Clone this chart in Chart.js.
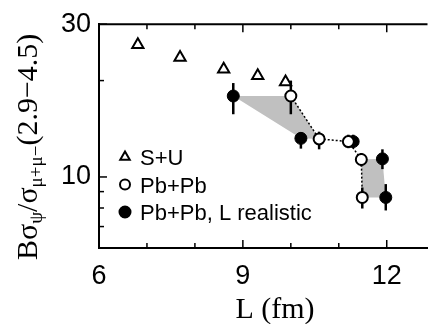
<!DOCTYPE html>
<html>
<head>
<meta charset="utf-8">
<script src="https://cdn.jsdelivr.net/npm/chart.js@4.4.1/dist/chart.umd.min.js"></script>
<style>
  html, body { margin: 0; padding: 0; background: #fff; overflow: hidden; }
  #wrap { width: 436px; height: 324px; }
</style>
</head>
<body>
<div id="wrap"><canvas id="chart" width="436" height="324"></canvas></div>
<script>
// S+U (open triangles)
const suL = [6.81, 7.69, 8.60, 9.31, 9.89]
const suVal = [25.9, 23.6, 21.7, 20.7, 19.8]

// Pb+Pb (open circles)
const pbL = [10.00, 10.59, 11.20, 11.47, 11.49]
const pbVal = [17.9, 13.15, 12.9, 11.34, 8.63]
const pbLo = [15.7, 12.2, 12.3, 10.8, 7.97]
const pbHi = [20.0, 13.85, 13.55, 11.88, 9.27]

// Pb+Pb, L realistic (filled circles)
const realL = [8.80, 10.21, 11.30, 11.91, 11.98]
const realVal = [17.9, 13.2, 12.9, 11.39, 8.63]
const realLo = [15.7, 12.26, 12.3, 10.58, 7.86]
const realHi = [19.65, 13.78, 13.55, 12.2, 9.5]

// index runs shaded between the two Pb+Pb series
const shadeRuns = [[0, 1], [3, 4]]

const xTicks = [6, 7, 8, 9, 10, 11, 12]
const xLabels = [6, 9, 12]
const yTicks = [6, 7, 8, 9, 10, 20, 30]
const yLabels = [10, 30]

const toPoints = (xs, ys) => xs.map((v, i) => ({x: v, y: ys[i]}))

// Sombreado + barras de erro (por baixo dos marcadores)
const bandsAndErrors = {
    id: 'bandsAndErrors',
    beforeDatasetsDraw(chart) {
        const {ctx, scales: {x, y}} = chart
        ctx.save()
        ctx.fillStyle = '#c0c0c0'
        shadeRuns.forEach(([a, b]) => {
            ctx.beginPath()
            ctx.moveTo(x.getPixelForValue(realL[a]), y.getPixelForValue(realVal[a]))
            for (let i = a; i <= b; i++) ctx.lineTo(x.getPixelForValue(pbL[i]), y.getPixelForValue(pbVal[i]))
            for (let i = b; i >= a; i--) ctx.lineTo(x.getPixelForValue(realL[i]), y.getPixelForValue(realVal[i]))
            ctx.closePath()
            ctx.fill()
        })

        ctx.strokeStyle = '#000'
        ctx.lineWidth = 2.5
        const bars = (xs, lo, hi) => xs.forEach((v, i) => {
            const px = x.getPixelForValue(v)
            ctx.beginPath()
            ctx.moveTo(px, y.getPixelForValue(lo[i]))
            ctx.lineTo(px, y.getPixelForValue(hi[i]))
            ctx.stroke()
        })
        bars(realL, realLo, realHi)
        bars(pbL, pbLo, pbHi)
        ctx.restore()
    }
}

// Moldura superior, ticks para dentro, legenda e título do eixo y
const frameAndText = {
    id: 'frameAndText',
    afterDraw(chart) {
        const {ctx, chartArea: area, scales: {x, y}} = chart
        ctx.save()
        ctx.strokeStyle = '#000'
        ctx.lineWidth = 2
        ctx.beginPath()
        ctx.moveTo(area.left, area.top)
        ctx.lineTo(area.right, area.top)
        ctx.stroke()

        ctx.lineWidth = 1.5
        xTicks.forEach(v => {
            const px = x.getPixelForValue(v)
            const len = xLabels.includes(v) ? 8 : 5
            ctx.beginPath()
            ctx.moveTo(px, area.bottom); ctx.lineTo(px, area.bottom - len)
            ctx.moveTo(px, area.top); ctx.lineTo(px, area.top + len)
            ctx.stroke()
        })
        yTicks.forEach(v => {
            const py = y.getPixelForValue(v)
            const len = yLabels.includes(v) ? 8 : 5
            ctx.beginPath()
            ctx.moveTo(area.left, py); ctx.lineTo(area.left + len, py)
            ctx.stroke()
        })

        // legenda
        const items = [chart.data.datasets[2], chart.data.datasets[0], chart.data.datasets[1]]
        ctx.font = '22px "Liberation Sans"'
        ctx.textBaseline = 'alphabetic'
        items.forEach((ds, i) => {
            const my = 157 + i * 27.5
            ctx.beginPath()
            if (ds.pointStyle === 'triangle') {
                const r = 5.5
                ctx.moveTo(125, my - r)
                ctx.lineTo(125 + r * 0.866, my + r / 2)
                ctx.lineTo(125 - r * 0.866, my + r / 2)
                ctx.closePath()
            } else {
                ctx.arc(125, my, ds.pointBackgroundColor === '#000' ? 5.5 : 5, 0, Math.PI * 2)
            }
            ctx.fillStyle = ds.pointBackgroundColor
            ctx.fill()
            ctx.lineWidth = 2
            ctx.stroke()
            ctx.fillStyle = '#000'
            ctx.fillText(ds.label, 140, my + 8)
        })

        // título do eixo x
        ctx.font = '30px "Liberation Serif"'
        ctx.textAlign = 'center'
        ctx.fillText('L (fm)', 275, 318)

        // título do eixo y com subscritos
        ctx.textAlign = 'left'
        ctx.translate(37, 260)
        ctx.rotate(-Math.PI / 2)
        const parts = [['Bσ', 0], ['ψ', 1], ['/σ', 0], ['μ+μ−', 1], ['(2.9−4.5)', 0]]
        let cx = 0
        parts.forEach(([t, sub]) => {
            ctx.font = sub ? '19px "Liberation Serif"' : '30px "Liberation Serif"'
            ctx.fillText(t, cx, sub ? 5 : 0)
            cx += ctx.measureText(t).width
        })
        ctx.restore()
    }
}

new Chart(document.getElementById('chart'), {
    type: 'scatter',
    data: {
        datasets: [
            {
                label: 'Pb+Pb',
                data: toPoints(pbL, pbVal),
                showLine: true,
                borderColor: '#000',
                borderWidth: 1.5,
                borderDash: [2, 2],
                pointRadius: 5.5,
                pointBorderWidth: 2,
                pointBackgroundColor: '#fff',
                pointBorderColor: '#000',
                order: 1
            },
            {
                label: 'Pb+Pb, L realistic',
                data: toPoints(realL, realVal),
                pointRadius: 6,
                pointBorderWidth: 1,
                pointBackgroundColor: '#000',
                pointBorderColor: '#000',
                order: 2
            },
            {
                label: 'S+U',
                data: toPoints(suL, suVal),
                pointStyle: 'triangle',
                pointRadius: 6.5,
                pointBorderWidth: 2,
                pointBackgroundColor: '#fff',
                pointBorderColor: '#000',
                order: 0
            }
        ]
    },
    options: {
        responsive: false,
        animation: false,
        devicePixelRatio: 1,
        layout: { padding: { top: 21, right: 0, bottom: 0, left: 0 } },
        plugins: { legend: { display: false }, tooltip: { enabled: false } },
        scales: {
            x: {
                type: 'linear',
                min: 6,
                max: 12.85,
                afterBuildTicks: s => { s.ticks = xTicks.map(v => ({value: v})) },
                afterFit: s => { s.height = 76 },
                grid: { display: false, drawTicks: false },
                border: { display: true, color: '#000', width: 2 },
                ticks: {
                    autoSkip: false,
                    maxRotation: 0,
                    padding: 12,
                    color: '#000',
                    font: { family: 'Liberation Sans', size: 27 },
                    callback: v => xLabels.includes(v) ? String(v) : ''
                }
            },
            y: {
                type: 'logarithmic',
                min: 6,
                max: 30,
                afterBuildTicks: s => { s.ticks = yTicks.map(v => ({value: v})) },
                afterFit: s => { s.width = 99 },
                grid: { display: false, drawTicks: false },
                border: { display: true, color: '#000', width: 2 },
                ticks: {
                    autoSkip: false,
                    padding: 8,
                    color: '#000',
                    font: { family: 'Liberation Sans', size: 27 },
                    callback: v => yLabels.includes(v) ? String(v) : ''
                }
            }
        }
    },
    plugins: [bandsAndErrors, frameAndText]
})
</script>
</body>
</html>
